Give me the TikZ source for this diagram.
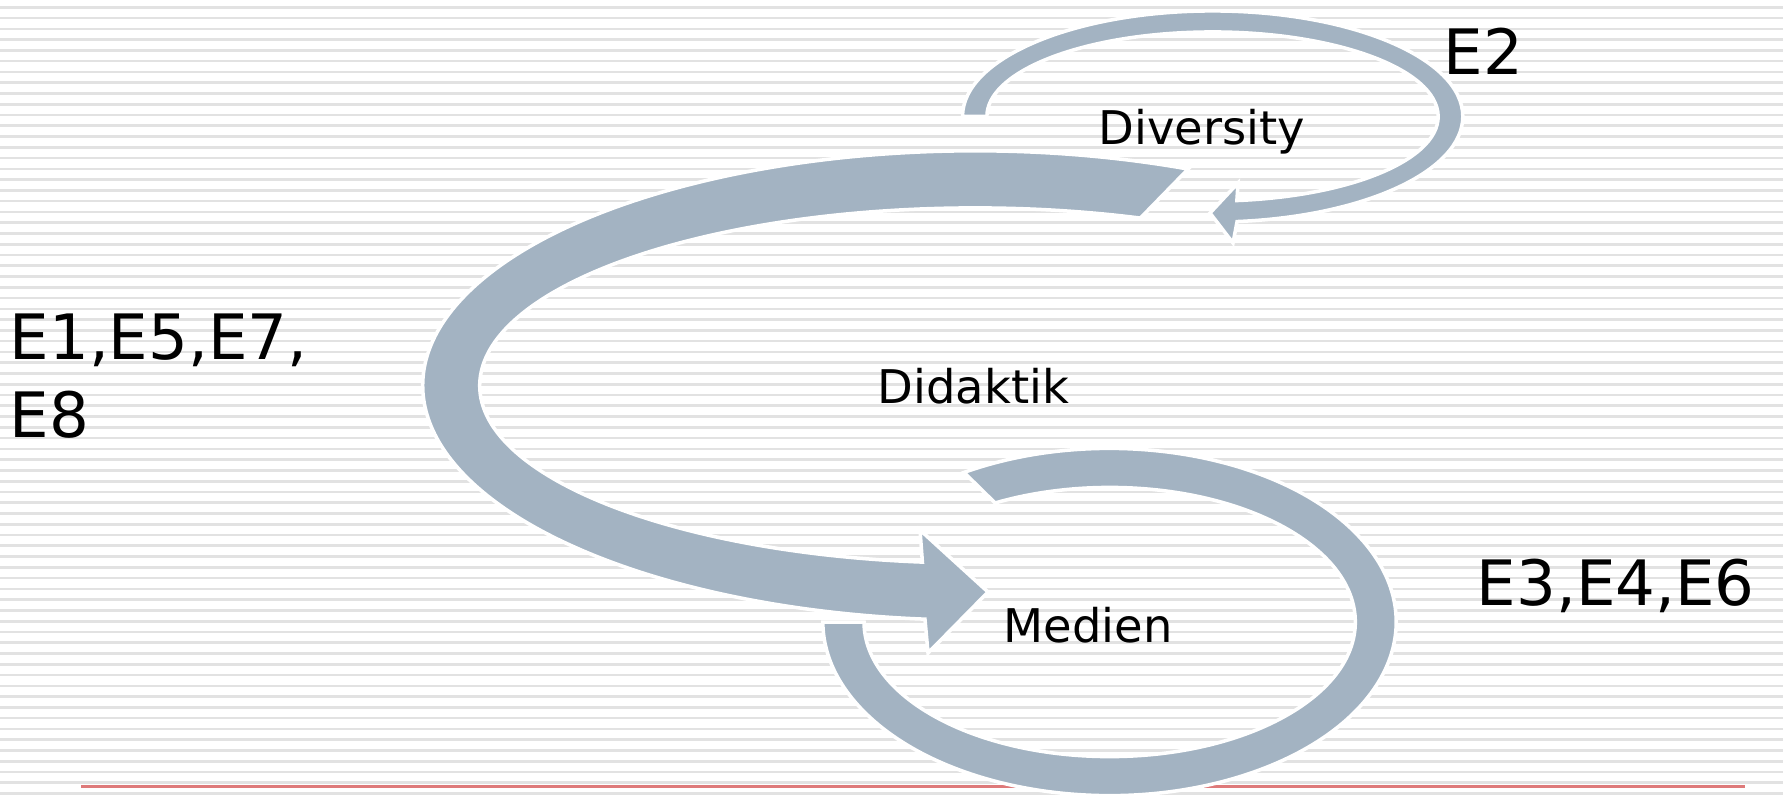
\documentclass[tikz,border=0pt]{standalone}
\usepackage{fontspec}
\setmainfont{DejaVu Sans}
\usetikzlibrary{calc}
\definecolor{bandblue}{RGB}{163,179,194}
\definecolor{stripegray}{RGB}{226,226,226}
\definecolor{rulered}{RGB}{222,122,122}

\begin{document}
\begin{tikzpicture}[x=0.01cm,y=0.01cm,
    band/.style={fill=bandblue,draw=white,line width=1pt,line join=miter},
    stripe/.style={draw=stripegray,line width=0.75pt},
    biglbl/.style={font=\fontsize{17.8}{21.9}\selectfont,inner sep=0pt,anchor=base west},
    smalllbl/.style={font=\fontsize{13.2}{15.8}\selectfont,inner sep=0pt,anchor=base west}]
  \useasboundingbox (0,0) rectangle (1783,-794);
  % background
  \fill[white] (0,0) rectangle (1783,-794);
  \foreach \i in {0,...,73}
    \draw[stripe] (0,{-7.3-10.77*\i}) -- (1783,{-7.3-10.77*\i});
  \draw[rulered,line width=0.6pt] (81,-786.5) -- (1745,-786.5);

  % Diversity loop
  \path[band] (962.5,-116.5)
      arc[start angle=180,end angle=-84.4,x radius=2.5cm,y radius=1.055cm]
    -- (1233,-243) -- (1210,-213) -- (1238,-183)
    -- ($(1212.5,-116.5)+(-83.8:2.255cm and 0.845cm)$)
      arc[start angle=-83.8,end angle=180,x radius=2.255cm,y radius=0.845cm]
    -- cycle;

  % Didaktik loop
  \path[band] ($(975,-385.5)+(67.3:5.52cm and 2.345cm)$)
      arc[start angle=67.3,end angle=264.8,x radius=5.52cm,y radius=2.345cm]
    -- (928,-653) -- (988,-592) -- (920,-530)
    -- ($(975,-385.5)+(263.9:4.95cm and 1.775cm)$)
      arc[start angle=263.9,end angle=70.5,x radius=4.95cm,y radius=1.775cm]
    -- cycle;

  % Medien loop
  \path[band] ($(1109.5,-622)+(120.5:2.865cm and 1.735cm)$)
      arc[start angle=120.5,end angle=-180,x radius=2.865cm,y radius=1.735cm]
    -- (864,-622)
      arc[start angle=-180,end angle=117.8,x radius=2.455cm,y radius=1.345cm]
    -- cycle;

  % labels
  \node[biglbl] (e2) at (1443,-75) {E2};
  \node[smalllbl] (diversity) at (1098,-145) {Diversity};
  \node[smalllbl] (didaktik) at (877,-403) {Didaktik};
  \node[smalllbl] (medien) at (1003,-642) {Medien};
  \node[biglbl,align=left] (e1) at (9,-437) {E1,E5,E7,\\E8};
  \node[biglbl] (e3) at (1476,-605) {E3,E4,E6};
\end{tikzpicture}
\end{document}
